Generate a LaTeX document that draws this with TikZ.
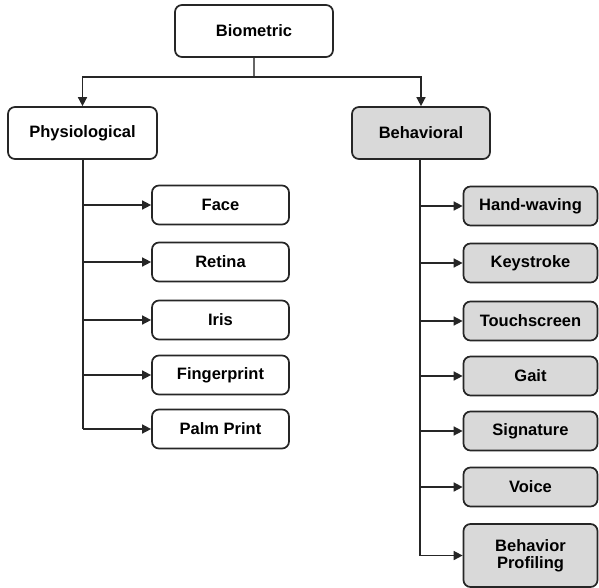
\documentclass[tikz,border=0pt]{standalone}
\usepackage{fontspec}
\setmainfont{Liberation Sans}
\usetikzlibrary{arrows.meta}
\begin{document}
\begin{tikzpicture}[x=1pt,y=-1pt,
  box/.style={draw=black!85, line width=1.7pt, rounded corners=7pt, fill=white,
    font=\bfseries\fontsize{16.5}{18}\selectfont, align=center, inner sep=0pt},
  gbox/.style={box, fill=black!15},
  leafL/.style={box, minimum width=137pt, minimum height=39pt},
  leafR/.style={gbox, minimum width=134pt, minimum height=39pt},
  conn/.style={draw=black!85, line width=1.5pt, -{Triangle[length=9pt,width=9pt]}},
  stem/.style={draw=black!85, line width=1.5pt}]
\useasboundingbox (0,0) rectangle (599,587);
\node[box, minimum width=158pt, minimum height=52pt] (bio) at (254,31) {Biometric};
\node[box, minimum width=149pt, minimum height=52pt] (phy) at (82.5,133) {Physiological};
\node[gbox, minimum width=138pt, minimum height=52pt] (beh) at (421,133) {Behavioral};
\node[leafL] (face) at (220.5,205) {Face};
\node[leafL] (ret) at (220.5,262) {Retina};
\node[leafL] (iris) at (220.5,320) {Iris};
\node[leafL] (fing) at (220.5,375) {Fingerprint};
\node[leafL] (palm) at (220.5,429) {Palm Print};
\node[leafR] (hand) at (530.5,206) {Hand-waving};
\node[leafR] (key) at (530.5,263) {Keystroke};
\node[leafR] (touch) at (530.5,321) {Touchscreen};
\node[leafR] (gait) at (530.5,376) {Gait};
\node[leafR] (sig) at (530.5,431) {Signature};
\node[leafR] (voice) at (530.5,487) {Voice};
\node[gbox, minimum width=134pt, minimum height=63pt] (prof) at (530.5,555.5) {Behavior\\[-1pt]Profiling};
\coordinate (split) at (254,77);
\draw[draw=black!60, line width=1.5pt] (bio.south) -- (split);
\draw[conn] (split) -| (phy.north);
\draw[conn] (split) -| (beh.north);
\coordinate (lx) at (83,0);
\coordinate (rx) at (420,0);
\draw[stem] (phy.south -| lx) -- (palm.west -| lx);
\foreach \n in {face,ret,iris,fing,palm}
  \draw[conn] (\n.west -| lx) -- (\n.west);
\draw[stem] (beh.south -| rx) -- (prof.west -| rx);
\foreach \n in {hand,key,touch,gait,sig,voice,prof}
  \draw[conn] (\n.west -| rx) -- (\n.west);
\end{tikzpicture}
\end{document}
